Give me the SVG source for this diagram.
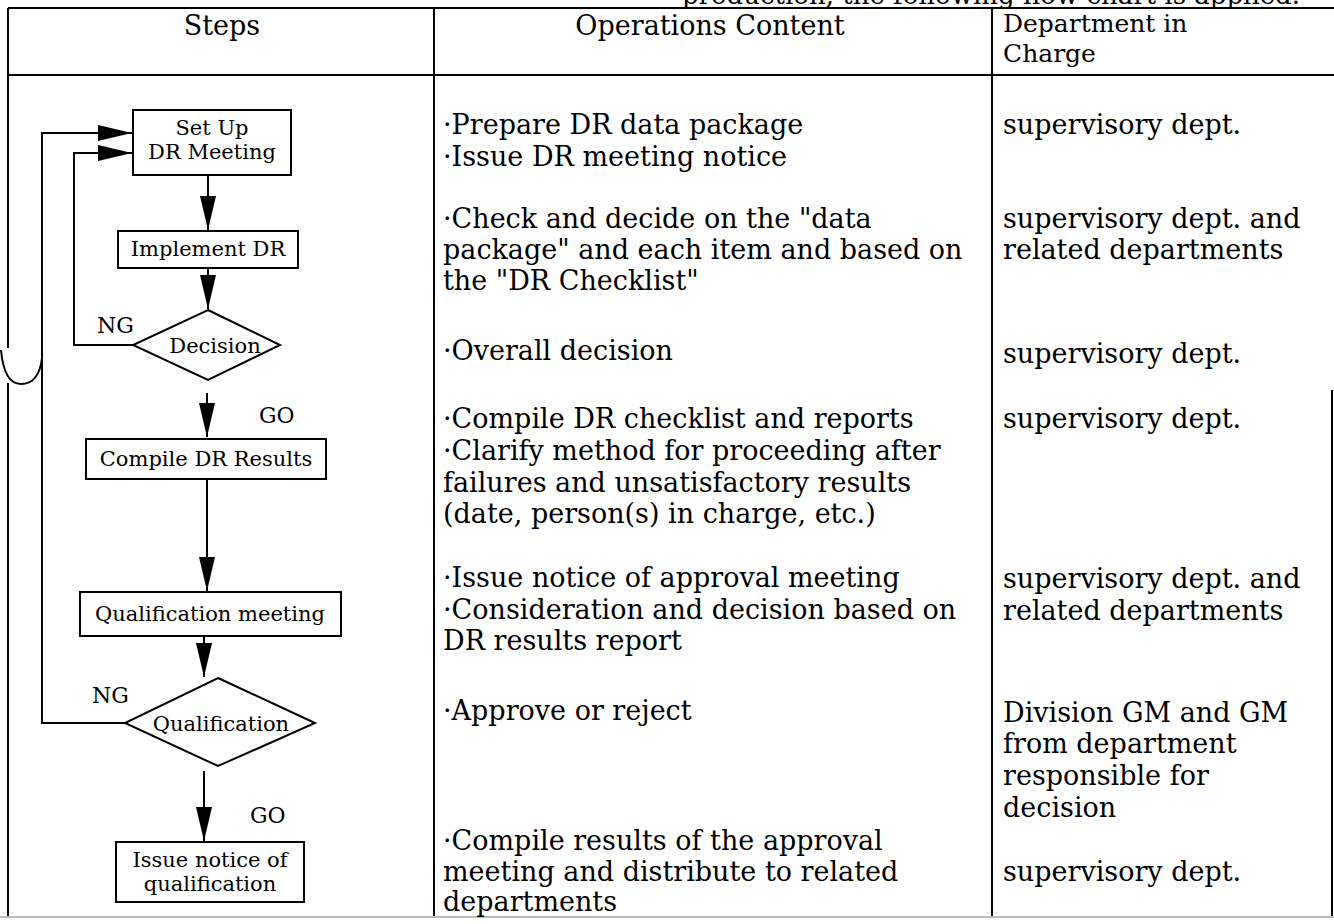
<svg xmlns="http://www.w3.org/2000/svg" width="1334" height="924" viewBox="0 0 1334 924">
<defs>
<style>
.t{font-family:"DejaVu Serif","Liberation Serif",serif;fill:#000}
.h{font-size:27px}
.h3{font-size:25px}
.cap{font-size:26px}
.b{font-size:27px}
.l{font-size:21px}
.g{font-size:22px}
.grid{stroke:#000;stroke-width:2;fill:none}
.box{stroke:#000;stroke-width:2;fill:#fff}
.c{stroke:#000;stroke-width:2;fill:none}
</style>
<marker id="ah" markerUnits="userSpaceOnUse" markerWidth="36" markerHeight="18" refX="34" refY="8" orient="auto">
<path d="M0,0 L34,8 L0,16 z" fill="#000"/>
</marker>
</defs>
<rect width="1334" height="924" fill="#fff"/>

<g id="caption">
<text class="t cap" x="1300" y="4" text-anchor="end">production, the following flow chart is applied.</text>
</g>

<g id="table">
<path class="grid" d="M8,8 H1334 M8,75 H1334 M8,8 V348 M8,383 V917 M434,8 V917 M992,8 V917 M1332,390 V917"/>
<path d="M0,917 H1334" stroke="#bbb" stroke-width="2" fill="none"/>
<path class="grid" d="M1,350 Q4,384 21,384 Q39,384 42,358"/>
</g>

<g id="header">
<text class="t h" x="222" y="35" text-anchor="middle">Steps</text>
<text class="t h" x="710" y="35" text-anchor="middle">Operations Content</text>
<text class="t h3" x="1003" y="32">Department in</text>
<text class="t h3" x="1003" y="62">Charge</text>
</g>

<g id="operations">
<text class="t b" x="443" y="134">·Prepare DR data package</text>
<text class="t b" x="443" y="166">·Issue DR meeting notice</text>
<text class="t b" x="443" y="228">·Check and decide on the "data</text>
<text class="t b" x="443" y="259">package" and each item and based on</text>
<text class="t b" x="443" y="290">the "DR Checklist"</text>
<text class="t b" x="443" y="360">·Overall decision</text>
<text class="t b" x="443" y="428">·Compile DR checklist and reports</text>
<text class="t b" x="443" y="460">·Clarify method for proceeding after</text>
<text class="t b" x="443" y="492">failures and unsatisfactory results</text>
<text class="t b" x="443" y="523">(date, person(s) in charge, etc.)</text>
<text class="t b" x="443" y="587">·Issue notice of approval meeting</text>
<text class="t b" x="443" y="619">·Consideration and decision based on</text>
<text class="t b" x="443" y="650">DR results report</text>
<text class="t b" x="443" y="720">·Approve or reject</text>
<text class="t b" x="443" y="850">·Compile results of the approval</text>
<text class="t b" x="443" y="881">meeting and distribute to related</text>
<text class="t b" x="443" y="911">departments</text>
</g>

<g id="departments">
<text class="t b" x="1003" y="134">supervisory dept.</text>
<text class="t b" x="1003" y="228">supervisory dept. and</text>
<text class="t b" x="1003" y="259">related departments</text>
<text class="t b" x="1003" y="363">supervisory dept.</text>
<text class="t b" x="1003" y="428">supervisory dept.</text>
<text class="t b" x="1003" y="588">supervisory dept. and</text>
<text class="t b" x="1003" y="620">related departments</text>
<text class="t b" x="1003" y="722">Division GM and GM</text>
<text class="t b" x="1003" y="753">from department</text>
<text class="t b" x="1003" y="785">responsible for</text>
<text class="t b" x="1003" y="817">decision</text>
<text class="t b" x="1003" y="881">supervisory dept.</text>
</g>

<g id="connectors">
<path class="c" d="M208,175 V230" marker-end="url(#ah)"/>
<path class="c" d="M208,268 V309" marker-end="url(#ah)"/>
<path class="c" d="M133,345 H74 V153 H132" marker-end="url(#ah)"/>
<path class="c" d="M207,393 V437" marker-end="url(#ah)"/>
<path class="c" d="M207,479 V591" marker-end="url(#ah)"/>
<path class="c" d="M204,636 V677" marker-end="url(#ah)"/>
<path class="c" d="M125,723 H42 V133 H132" marker-end="url(#ah)"/>
<path class="c" d="M204,771 V841" marker-end="url(#ah)"/>
<text class="t g" x="97" y="333">NG</text>
<text class="t g" x="259" y="423">GO</text>
<text class="t g" x="92" y="703">NG</text>
<text class="t g" x="250" y="823">GO</text>
</g>

<g id="setup">
<rect class="box" x="133" y="110" width="158" height="65"/>
<text class="t l" x="212" y="135" text-anchor="middle">Set Up</text>
<text class="t l" x="212" y="159" text-anchor="middle">DR Meeting</text>
</g>

<g id="implement">
<rect class="box" x="118" y="231" width="180" height="37"/>
<text class="t l" x="208" y="256" text-anchor="middle">Implement DR</text>
</g>

<g id="decision">
<polygon class="box" points="208,310 280,345 208,380 133,345"/>
<text class="t l" x="215" y="353" text-anchor="middle">Decision</text>
</g>

<g id="compile">
<rect class="box" x="86" y="439" width="240" height="40"/>
<text class="t l" x="206" y="466" text-anchor="middle">Compile DR Results</text>
</g>

<g id="qualmeeting">
<rect class="box" x="80" y="592" width="261" height="44"/>
<text class="t l" x="210" y="621" text-anchor="middle">Qualification meeting</text>
</g>

<g id="qualification">
<polygon class="box" points="218,678 315,723 218,766 125,723"/>
<text class="t l" x="221" y="731" text-anchor="middle">Qualification</text>
</g>

<g id="issue">
<rect class="box" x="116" y="842" width="188" height="60"/>
<text class="t l" x="210" y="867" text-anchor="middle">Issue notice of</text>
<text class="t l" x="210" y="891" text-anchor="middle">qualification</text>
</g>
</svg>
